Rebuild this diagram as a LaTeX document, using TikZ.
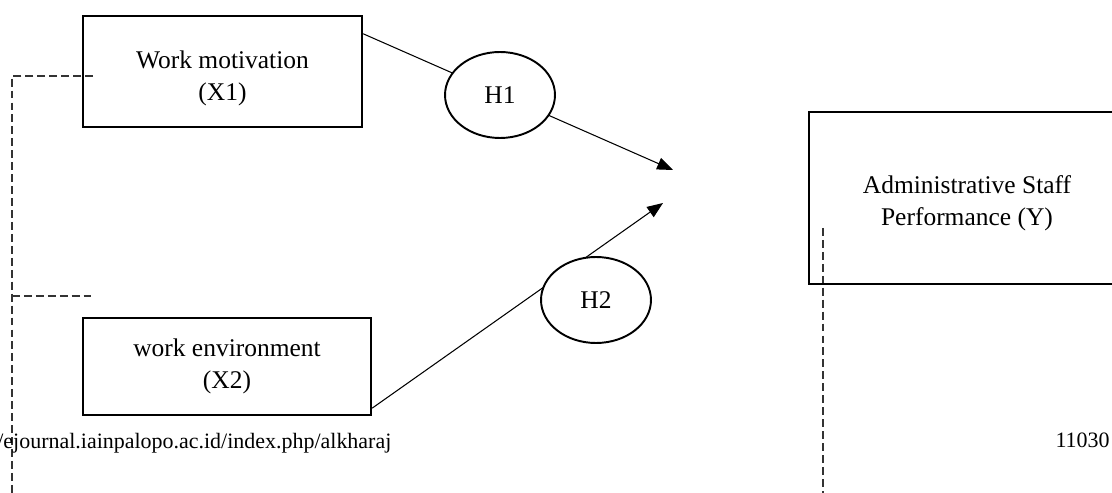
\documentclass[tikz,border=0pt]{standalone}
\usepackage{fontspec}
\setmainfont{Liberation Serif}
\usetikzlibrary{arrows.meta, shapes}
\tikzset{
    varbox/.style={draw, line width=1.4pt, rectangle, align=center, inner sep=0pt,
        font=\fontsize{14.5}{18.5}\selectfont},
    hypo/.style={draw, line width=1.1pt, ellipse, fill=white, inner sep=0pt,
        minimum width=2.2cm, minimum height=1.72cm, font=\fontsize{14.5}{18}\selectfont},
    link/.style={line width=0.6pt, -{Triangle[length=9pt, width=7pt]}},
    margin/.style={dash pattern=on 4.5pt off 2.3pt, line width=0.6pt, black!80},
    footer/.style={inner sep=0pt, font=\fontsize{12.5}{15}\selectfont}
}
\begin{document}
\begin{tikzpicture}[x=0.02cm, y=-0.02cm]
    \useasboundingbox (0,0) rectangle (1112,493);
    % page margins
    \draw[margin] (93,76) -- (12,76) -- (12,493);
    \draw[margin] (12,296) -- (91,296);
    \draw[margin] (823,228) -- (823,493);
    % variables
    \node[varbox, minimum width=5.58cm, minimum height=2.22cm] (x1) at (222.5,71.5) {\rule{0pt}{18pt}Work motivation\\(X1)};
    \node[varbox, minimum width=5.76cm, minimum height=1.94cm] (x2) at (227,366.5) {work environment\\(X2)};
    \node[varbox, minimum width=6.32cm, minimum height=3.44cm] (y) at (967,198) {\rule{0pt}{16pt}Administrative Staff\\Performance (Y)};
    \coordinate (t1) at (673,170);
    \coordinate (t2) at (663,203);
    \draw[link] (x1.15) -- (t1);
    \draw[link] (x2.-16) -- (t2);
    % hypotheses
    \node[hypo] (h1) at (500,95) {H1};
    \node[hypo] (h2) at (596,300) {H2};
    \node[footer, anchor=base west] (url) at (-3,448) {/ejournal.iainpalopo.ac.id/index.php/alkharaj};
    \node[footer, anchor=base east] (page) at (1110,447) {11030};
\end{tikzpicture}
\end{document}
